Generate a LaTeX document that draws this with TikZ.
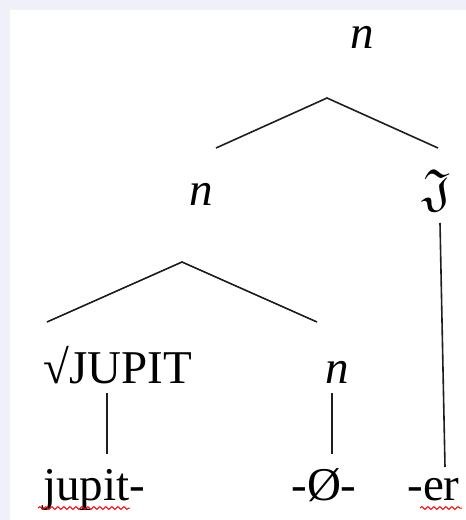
\documentclass[tikz,border=0pt]{standalone}
\usepackage{fontspec}
\usepackage{amssymb}
\setmainfont{Liberation Serif}
\usetikzlibrary{positioning,decorations.pathmorphing}
\definecolor{paneltint}{RGB}{240,240,248}
\definecolor{inkgray}{RGB}{30,30,30}
\tikzset{
  lbl/.style={inner sep=0pt, anchor=base, font=\fontsize{23.5}{28}\selectfont},
  branch/.style={draw=inkgray, line width=0.8pt},
  typo/.style={draw=red, line width=0.5pt, decorate,
    decoration={snake, amplitude=0.7pt, segment length=3pt}}
}

\begin{document}
\begin{tikzpicture}[x=0.5pt,y=-0.5pt]
    \fill[paneltint] (0,0) rectangle (466,520);
    \fill[white] (10,10) rectangle (466,520);
    \useasboundingbox (0,0) rectangle (466,520);
    \node[lbl] (nTop) at (362,48) {\textit{n}};
    \node[lbl] (nMid) at (201,205) {\textit{n}};
    \node[lbl, font=\fontsize{26}{30}\selectfont] (frak) at (437,205) {$\mathfrak{J}$};
    \node[lbl, anchor=base west] (root) at (43,383) {√JUPIT};
    \node[lbl] (nLow) at (337,383) {\textit{n}};
    \node[lbl, anchor=base west] (jupit) at (43,500) {jupit-};
    \node[lbl] (zero) at (324,500) {-Ø-};
    \node[lbl, anchor=base west] (er) at (407,500) {-er};
    \coordinate (topApex) at (327,98);
    \coordinate (topL) at (216,148);
    \coordinate (topR) at (438,148);
    \coordinate (lowApex) at (182,262);
    \coordinate (lowL) at (47,322);
    \coordinate (lowR) at (317,322);
    \coordinate (rootTop) at (107,393);
    \coordinate (rootBot) at (107,454);
    \coordinate (nLowTop) at (332,393);
    \coordinate (nLowBot) at (332,454);
    \coordinate (frakTop) at (440,223);
    \coordinate (frakBot) at (445,467);
    \draw[branch] (topL) -- (topApex) -- (topR);
    \draw[branch] (lowL) -- (lowApex) -- (lowR);
    \draw[branch] (rootTop) -- (rootBot);
    \draw[branch] (nLowTop) -- (nLowBot);
    \draw[branch] (frakTop) -- (frakBot);
    \draw[typo] (38,508) -- (130,508);
    \draw[typo] (420,508) -- (462,508);
\end{tikzpicture}
\end{document}
